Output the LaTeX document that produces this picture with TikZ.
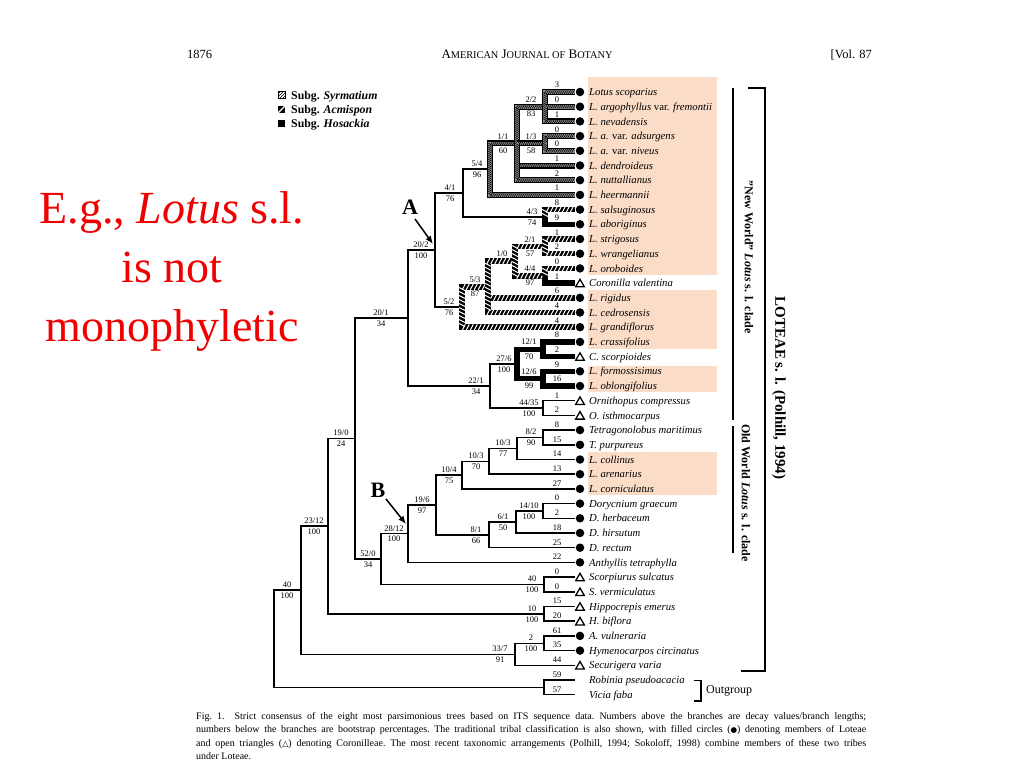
\documentclass[tikz,border=0pt]{standalone}
\usepackage{fontspec}
\setmainfont{Liberation Serif}
\newfontfamily\symfont{DejaVu Sans}
\usetikzlibrary{decorations.markings,patterns,arrows.meta,shapes.geometric}
\definecolor{peach}{RGB}{251,221,199}
\definecolor{slidered}{RGB}{240,0,0}
\newcommand\brl[5]{\node[lab,above=2.4pt] (#1a) at (#2,#3) {#4};\node[lab,below=2.4pt] (#1b) at (#2,#3) {#5};}
\newcommand\brk[5]{\node[lab,above=4pt] (#1a) at (#2,#3) {#4};\node[lab,below=4pt] (#1b) at (#2,#3) {#5};}
\begin{document}
\begin{tikzpicture}[x=1pt,y=-1pt,
  thinb/.style={line width=1.5pt},
  hos/.style={line width=5.5pt},
  acm/.style={line width=5.5pt, postaction={decorate, decoration={markings, mark=between positions 2pt and -1pt step 4pt with {\draw[white,line width=1pt] (-1.5pt,-2.9pt) -- (1.5pt,2.9pt);}}}},
  syr/.style={line width=6pt, postaction={draw=black!45,line width=3.6pt}, postaction={decorate, decoration={markings, mark=between positions 1pt and -0.5pt step 2pt with {\draw[black,line width=0.6pt] (-1.1pt,-1.8pt) -- (1.1pt,1.8pt);}}}},
  lab/.style={inner sep=0pt, font=\fontsize{8.5}{9}\selectfont},
  taxon/.style={anchor=base west, inner sep=0pt, font=\itshape\fontsize{10.7}{12}\selectfont},
  symc/.style={circle, fill=black, inner sep=0pt, minimum size=8.5pt},
  symt/.style={regular polygon, regular polygon sides=3, draw, line width=1.3pt, inner sep=0pt, minimum size=10pt, yshift=-1.2pt},
  symn/.style={inner sep=0pt, minimum size=0pt},
  arr/.style={line width=1.5pt, -{Latex[length=8pt,width=6.5pt]}},
  bar/.style={line width=2.6pt}
]
\useasboundingbox (0,0) rectangle (1024,768);
\fill[white] (0,0) rectangle (1024,768);

% header
\node[anchor=base west, inner sep=0pt, font=\fontsize{12.5}{14}\selectfont] (pg) at (187,59) {1876};
\node[anchor=base, inner sep=0pt, font=\fontsize{13}{15}\selectfont] (jn) at (527,59) {A{\fontsize{10.3}{12}\selectfont MERICAN} J{\fontsize{10.3}{12}\selectfont OURNAL OF} B{\fontsize{10.3}{12}\selectfont OTANY}};
\node[anchor=base east, inner sep=0pt, font=\fontsize{12.5}{14}\selectfont] (vol) at (872,59) {[Vol. 87};

% red text
\node[anchor=base, inner sep=0pt, text=slidered, font=\fontsize{46}{50}\selectfont] (r1) at (172,223) {E.g., \textit{Lotus} s.l.};
\node[anchor=base, inner sep=0pt, text=slidered, font=\fontsize{46}{50}\selectfont] (r2) at (172,282) {is not};
\node[anchor=base, inner sep=0pt, text=slidered, font=\fontsize{46}{50}\selectfont] (r3) at (172,341) {monophyletic};

% legend
\draw[line width=0.5pt, pattern=north east lines] (278,91.5) rectangle (285,98.5);
\fill (278,106) rectangle (285,113);
\draw[white, line width=1.1pt] (278,113) -- (285,106);
\fill (278,119.5) rectangle (285,126.5);
\node[anchor=base west, inner sep=0pt, font=\bfseries\fontsize{11.8}{13}\selectfont] (lg1) at (291,99) {Subg. \textit{Syrmatium}};
\node[anchor=base west, inner sep=0pt, font=\bfseries\fontsize{11.8}{13}\selectfont] (lg2) at (291,113.5) {Subg. \textit{Acmispon}};
\node[anchor=base west, inner sep=0pt, font=\bfseries\fontsize{11.8}{13}\selectfont] (lg3) at (291,127.5) {Subg. \textit{Hosackia}};

% highlight boxes
\fill[peach] (588,77) rectangle (717,275);
\fill[peach] (588,290) rectangle (717,349);
\fill[peach] (588,366) rectangle (717,392);
\fill[peach] (588,452) rectangle (717,495);

% tips
\foreach \i/\nm/\sy/\bv in {
 0/{Lotus scoparius}/c/3,
 1/{L. argophyllus \textup{var.} fremontii}/c/0,
 2/{L. nevadensis}/c/1,
 3/{L. a. \textup{var.} adsurgens}/c/0,
 4/{L. a. \textup{var.} niveus}/c/0,
 5/{L. dendroideus}/c/1,
 6/{L. nuttallianus}/c/2,
 7/{L. heermannii}/c/1,
 8/{L. salsuginosus}/c/8,
 9/{L. aboriginus}/c/9,
 10/{L. strigosus}/c/1,
 11/{L. wrangelianus}/c/2,
 12/{L. oroboides}/c/0,
 13/{Coronilla valentina}/t/1,
 14/{L. rigidus}/c/6,
 15/{L. cedrosensis}/c/4,
 16/{L. grandiflorus}/c/4,
 17/{L. crassifolius}/c/8,
 18/{C. scorpioides}/t/2,
 19/{L. formossisimus}/c/9,
 20/{L. oblongifolius}/c/16,
 21/{Ornithopus compressus}/t/1,
 22/{O. isthmocarpus}/t/2,
 23/{Tetragonolobus maritimus}/c/8,
 24/{T. purpureus}/c/15,
 25/{L. collinus}/c/14,
 26/{L. arenarius}/c/13,
 27/{L. corniculatus}/c/27,
 28/{Dorycnium graecum}/c/0,
 29/{D. herbaceum}/c/2,
 30/{D. hirsutum}/c/18,
 31/{D. rectum}/c/25,
 32/{Anthyllis tetraphylla}/c/22,
 33/{Scorpiurus sulcatus}/t/0,
 34/{S. vermiculatus}/t/0,
 35/{Hippocrepis emerus}/t/15,
 36/{H. biflora}/t/20,
 37/{A. vulneraria}/c/61,
 38/{Hymenocarpos circinatus}/c/35,
 39/{Securigera varia}/t/44,
 40/{Robinia pseudoacacia}/n/59,
 41/{Vicia faba}/n/57}{
  \pgfmathsetmacro\off{\i<21 ? 3.8 : 2.4}
  \coordinate (t\i) at (575,{92+14.7*\i});
  \node[sym\sy] (s\i) at (580,{92+14.7*\i}) {};
  \node[taxon] (x\i) at (589,{95.6+14.7*\i}) {\nm};
  \node[lab,above=\off pt] (b\i) at (557,{92+14.7*\i}) {\bv};
}

% internal nodes
\coordinate (nA1) at (545,106.7);
\coordinate (nA2) at (545,143.45);
\coordinate (nA3) at (517,143.45);
\coordinate (nA4) at (490,169.18);
\coordinate (nB1) at (545,216.95);
\coordinate (nA5) at (463,193.06);
\coordinate (nC1) at (545,246.35);
\coordinate (nC2) at (545,275.75);
\coordinate (nC3) at (515,261.05);
\coordinate (nC4) at (488,286.78);
\coordinate (nC5) at (462,306.99);
\coordinate (nA) at (435,250.03);
\coordinate (nD1) at (543,349.25);
\coordinate (nD2) at (543,378.65);
\coordinate (nD3) at (517,363.95);
\coordinate (nD4) at (543,408.05);
\coordinate (nD5) at (490,386.0);
\coordinate (nE) at (408,318.02);
\coordinate (nF1) at (543,437.45);
\coordinate (nF2) at (517,448.48);
\coordinate (nF3) at (489,461.34);
\coordinate (nF4) at (462,475.12);
\coordinate (nG1) at (543,510.95);
\coordinate (nG2) at (516,521.98);
\coordinate (nG3) at (489,534.84);
\coordinate (nH) at (436,504.98);
\coordinate (nB) at (408,533.69);
\coordinate (nI1) at (544,584.45);
\coordinate (nI) at (381,559.07);
\coordinate (nJ) at (355,438.55);
\coordinate (nK1) at (544,613.85);
\coordinate (nK) at (328,526.2);
\coordinate (nL1) at (544,643.25);
\coordinate (nL) at (515,654.28);
\coordinate (nM) at (301,590.24);
\coordinate (nO) at (544,687.35);
\coordinate (root) at (274,638.8);

% thin branches
\draw[thinb] (root) |- (nM);
\draw[thinb] (root) |- (nO);
\draw[thinb] (nO) |- (t40);
\draw[thinb] (nO) |- (t41);
\draw[thinb] (nM) |- (nK);
\draw[thinb] (nM) |- (nL);
\draw[thinb] (nL) |- (nL1);
\draw[thinb] (nL) |- (t39);
\draw[thinb] (nL1) |- (t37);
\draw[thinb] (nL1) |- (t38);
\draw[thinb] (nK) |- (nJ);
\draw[thinb] (nK) |- (nK1);
\draw[thinb] (nK1) |- (t35);
\draw[thinb] (nK1) |- (t36);
\draw[thinb] (nJ) |- (nE);
\draw[thinb] (nJ) |- (nI);
\draw[thinb] (nI) |- (nB);
\draw[thinb] (nI) |- (nI1);
\draw[thinb] (nI1) |- (t33);
\draw[thinb] (nI1) |- (t34);
\draw[thinb] (nB) |- (nH);
\draw[thinb] (nB) |- (t32);
\draw[thinb] (nH) |- (nF4);
\draw[thinb] (nH) |- (nG3);
\draw[thinb] (nG3) |- (nG2);
\draw[thinb] (nG3) |- (t31);
\draw[thinb] (nG2) |- (nG1);
\draw[thinb] (nG2) |- (t30);
\draw[thinb] (nG1) |- (t28);
\draw[thinb] (nG1) |- (t29);
\draw[thinb] (nF4) |- (nF3);
\draw[thinb] (nF4) |- (t27);
\draw[thinb] (nF3) |- (nF2);
\draw[thinb] (nF3) |- (t26);
\draw[thinb] (nF2) |- (nF1);
\draw[thinb] (nF2) |- (t25);
\draw[thinb] (nF1) |- (t23);
\draw[thinb] (nF1) |- (t24);
\draw[thinb] (nE) |- (nA);
\draw[thinb] (nE) |- (nD5);
\draw[thinb] (nD5) |- (nD3);
\draw[thinb] (nD5) |- (nD4);
\draw[thinb] (nD4) |- (t21);
\draw[thinb] (nD4) |- (t22);
\draw[thinb] (nA) |- (nA5);
\draw[thinb] (nA) |- (nC5);
\draw[thinb] (nA5) |- (nA4);
\draw[thinb] (nA5) |- (nB1);

% Hosackia
\draw[hos] (nB1) |- (t9);
\draw[hos] (nC2) |- (t13);
\draw[hos] (nD3) |- (nD1);
\draw[hos] (nD3) |- (nD2);
\draw[hos] (nD1) |- (t17);
\draw[hos] (nD1) |- (t18);
\draw[hos] (nD2) |- (t19);
\draw[hos] (nD2) |- (t20);

% Acmispon
\draw[acm] (nB1) |- (t8);
\draw[acm] (nC5) |- (nC4);
\draw[acm] (nC5) |- (t16);
\draw[acm] (nC4) |- (nC3);
\draw[acm] (nC4) |- (t14);
\draw[acm] (nC4) |- (t15);
\draw[acm] (nC3) |- (nC1);
\draw[acm] (nC3) |- (nC2);
\draw[acm] (nC1) |- (t10);
\draw[acm] (nC1) |- (t11);
\draw[acm] (nC2) |- (t12);

% Syrmatium
\draw[syr] (nA4) |- (nA3);
\draw[syr] (nA4) |- (t7);
\draw[syr] (nA3) |- (nA1);
\draw[syr] (nA3) -- (nA2);
\draw[syr] (nA3) |- (t5);
\draw[syr] (nA3) |- (t6);
\draw[syr] (nA1) |- (t0);
\draw[syr] (nA1) -- (t1);
\draw[syr] (nA1) |- (t2);
\draw[syr] (nA2) |- (t3);
\draw[syr] (nA2) |- (t4);

% branch labels
\brk{q1}{531}{106.7}{2/2}{83}
\brk{q2}{531}{143.45}{1/3}{58}
\brk{q3}{503}{143.45}{1/1}{60}
\brl{q4}{477}{169.18}{5/4}{96}
\brl{q5}{450}{193.06}{4/1}{76}
\brl{q6}{532}{216.95}{4/3}{74}
\brl{q7}{421}{250.03}{20/2}{100}
\brk{q8}{530}{246.35}{2/1}{57}
\node[lab,above=4pt] (q9a) at (502,261.05) {1/0};
\brk{q10}{530}{275.75}{4/4}{97}
\brk{q11}{475}{286.78}{5/3}{87}
\brl{q12}{449}{306.99}{5/2}{76}
\brk{q13}{529}{349.25}{12/1}{70}
\brl{q14}{504}{363.95}{27/6}{100}
\brk{q15}{529}{378.65}{12/6}{99}
\brl{q16}{476}{386.0}{22/1}{34}
\brl{q17}{529}{408.05}{44/35}{100}
\brl{q18}{381}{318.02}{20/1}{34}
\brl{q19}{341}{438.55}{19/0}{24}
\brl{q20}{531}{437.45}{8/2}{90}
\brl{q21}{503}{448.48}{10/3}{77}
\brl{q22}{476}{461.34}{10/3}{70}
\brl{q23}{449}{475.12}{10/4}{75}
\brl{q24}{529}{510.95}{14/10}{100}
\brl{q25}{503}{521.98}{6/1}{50}
\brl{q26}{476}{534.84}{8/1}{66}
\brl{q27}{422}{504.98}{19/6}{97}
\brl{q28}{394}{533.69}{28/12}{100}
\brl{q29}{368}{559.07}{52/0}{34}
\brl{q30}{532}{584.45}{40}{100}
\brl{q31}{314}{526.2}{23/12}{100}
\brl{q32}{532}{613.85}{10}{100}
\brl{q33}{531}{643.25}{2}{100}
\brl{q34}{500}{654.28}{33/7}{91}
\brl{q35}{287}{590.24}{40}{100}

% A and B arrows
\node[inner sep=0pt, font=\bfseries\fontsize{22}{24}\selectfont] (lblA) at (410,207) {A};
\coordinate (Atail) at (415,219);
\coordinate (Atip) at (433,244);
\draw[arr] (Atail) -- (Atip);
\node[inner sep=0pt, font=\bfseries\fontsize{22}{24}\selectfont] (lblB) at (378,490) {B};
\coordinate (Btail) at (386,499);
\coordinate (Btip) at (406,524);
\draw[arr] (Btail) -- (Btip);

% right bars and brackets
\draw[bar] (733,88) -- (733,420);
\draw[bar] (733,426) -- (733,553);
\draw[line width=2.2pt] (748,88) -- (765,88) -- (765,671) -- (741,671);
\draw[line width=1.5pt] (694,680.5) -- (701,680.5) -- (701,701) -- (694,701);
\node[anchor=west, inner sep=0pt, font=\fontsize{12}{14}\selectfont] (og) at (706,691) {Outgroup};
\node[rotate=-90, inner sep=0pt, font=\bfseries\fontsize{12}{14}\selectfont] (nw) at (749,257) {"New World" \textit{Lotus} s. l. clade};
\node[rotate=-90, inner sep=0pt, font=\bfseries\fontsize{12}{14}\selectfont] (ow) at (746,493) {Old World \textit{Lotus} s. l. clade};
\node[rotate=-90, inner sep=0pt, font=\bfseries\fontsize{15}{17}\selectfont] (lot) at (779,388) {LOTEAE s. l. (Polhill, 1994)};

% caption
\node[anchor=base west, inner sep=0pt, font=\frenchspacing\fontsize{10}{11}\selectfont] (c1) at (196,719) {\makebox[670pt][s]{Fig. 1.\hspace{1em}Strict consensus of the eight most parsimonious trees based on ITS sequence data. Numbers above the branches are decay values/branch lengths;}};
\node[anchor=base west, inner sep=0pt, font=\frenchspacing\fontsize{10}{11}\selectfont] (c2) at (196,732.5) {\makebox[670pt][s]{numbers below the branches are bootstrap percentages. The traditional tribal classification is also shown, with filled circles ({\symfont\fontsize{7.5}{9}\selectfont ●}) denoting members of Loteae}};
\node[anchor=base west, inner sep=0pt, font=\frenchspacing\fontsize{10}{11}\selectfont] (c3) at (196,746) {\makebox[670pt][s]{and open triangles ({\symfont\fontsize{8}{9}\selectfont △}) denoting Coronilleae. The most recent taxonomic arrangements (Polhill, 1994; Sokoloff, 1998) combine members of these two tribes}};
\node[anchor=base west, inner sep=0pt, font=\frenchspacing\fontsize{10}{11}\selectfont] (c4) at (196,759.5) {under Loteae.};
\end{tikzpicture}
\end{document}
